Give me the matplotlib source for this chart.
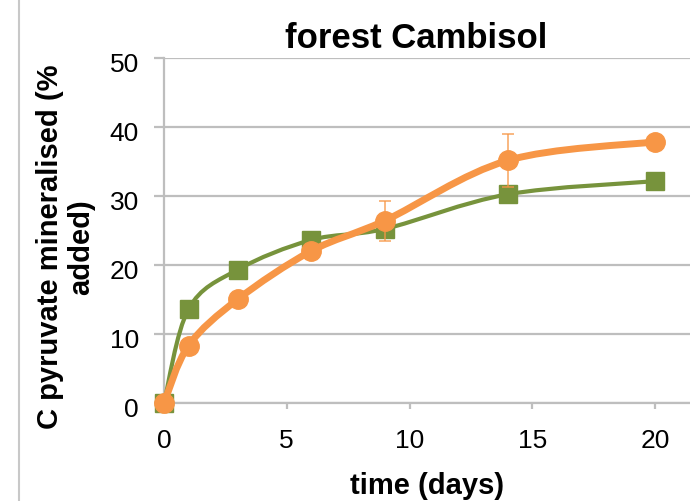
import matplotlib
matplotlib.use("Agg")
import matplotlib.pyplot as plt
import numpy as np
from matplotlib.path import Path
from matplotlib.patches import PathPatch
from matplotlib.lines import Line2D
from matplotlib.transforms import ScaledTranslation

plt.rcParams['font.family'] = ['Liberation Sans', 'DejaVu Sans']

days = [0, 1, 3, 6, 9, 14, 20]
green_vals = [0.0, 13.6, 19.3, 23.6, 25.2, 30.2, 32.1]
orange_vals = [0.0, 8.3, 15.0, 22.0, 26.4, 35.1, 37.8]
orange_err = [0.0, 0.5, 0.8, 1.0, 2.9, 3.8, 0.8]
x_ticks = [0, 5, 10, 15, 20]
y_ticks = [0, 10, 20, 30, 40, 50]
title = "forest Cambisol"
xlabel = "time (days)"
ylabel = "C pyruvate mineralised (%\nadded)"

GREEN = "#77933C"
ORANGE = "#F79646"
GRID = "#BEBEBE"


def smooth_path(x, y, t=1/6):
    x = np.asarray(x, float)
    y = np.asarray(y, float)
    n = len(x)
    verts = [(x[0], y[0])]
    codes = [Path.MOVETO]
    for i in range(n - 1):
        p0 = (x[max(i - 1, 0)], y[max(i - 1, 0)])
        p1 = (x[i], y[i])
        p2 = (x[i + 1], y[i + 1])
        p3 = (x[min(i + 2, n - 1)], y[min(i + 2, n - 1)])
        c1 = (p1[0] + (p2[0] - p0[0]) * t, p1[1] + (p2[1] - p0[1]) * t)
        c2 = (p2[0] - (p3[0] - p1[0]) * t, p2[1] - (p3[1] - p1[1]) * t)
        verts += [c1, c2, p2]
        codes += [Path.CURVE4] * 3
    return Path(verts, codes)


fig = plt.figure(figsize=(6.9, 5.02), dpi=100)
ax = fig.add_axes([164 / 690, 1 - 404 / 502, 1 - 164 / 690, (404 - 58.5) / 502])
ax.set_xlim(0, (690 - 164) / 24.55)
ax.set_ylim(0, 50)

ax.set_yticks(y_ticks)
ax.set_xticks(x_ticks)
ax.yaxis.grid(True, color=GRID, linewidth=1.6)
ax.set_axisbelow(True)
for s in ['top', 'right']:
    ax.spines[s].set_visible(False)
for s in ['left', 'bottom']:
    ax.spines[s].set_color(GRID)
    ax.spines[s].set_linewidth(1.6)
ax.tick_params(axis='y', direction='out', length=7, width=1.6, color=GRID,
               labelsize=19, pad=11)
ax.tick_params(axis='x', direction='out', length=4, width=1.6, color=GRID,
               labelsize=19, pad=14)
for lab in ax.get_yticklabels():
    lab.set_transform(lab.get_transform() +
                      ScaledTranslation(0, -4 / 100, fig.dpi_scale_trans))

# green series
ax.add_patch(PathPatch(smooth_path(days, green_vals), fill=False,
                       edgecolor=GREEN, linewidth=3, zorder=3, clip_on=False))
ax.plot(days, green_vals, linestyle='none', marker='s', markersize=13,
        color=GREEN, zorder=4, clip_on=False)

# orange series
ax.errorbar(days, orange_vals, yerr=orange_err, fmt='none', ecolor=ORANGE,
            elinewidth=1.2, capsize=4, capthick=1.2, zorder=5, alpha=0.8)
ax.add_patch(PathPatch(smooth_path(days, orange_vals), fill=False,
                       edgecolor=ORANGE, linewidth=5, zorder=5, clip_on=False,
                       capstyle='round'))
ax.plot(days, orange_vals, linestyle='none', marker='o', markersize=14,
        color=ORANGE, zorder=6, clip_on=False)

ax.set_xlabel(xlabel, fontsize=21, fontweight='bold', labelpad=14)
fig.text(65.5 / 690, 1 - 247 / 502, ylabel, rotation=90, ha='center',
         va='center', fontsize=21, fontweight='bold', multialignment='center',
         linespacing=1.15)
fig.text(416 / 690, 1 - 48 / 502, title, ha='center', va='baseline',
         fontsize=25, fontweight='bold')

fig.add_artist(Line2D([19 / 690, 19 / 690], [0, 1], transform=fig.transFigure,
                      color="#C8C8C8", linewidth=1.5))

fig.savefig("out.png", dpi=100)
